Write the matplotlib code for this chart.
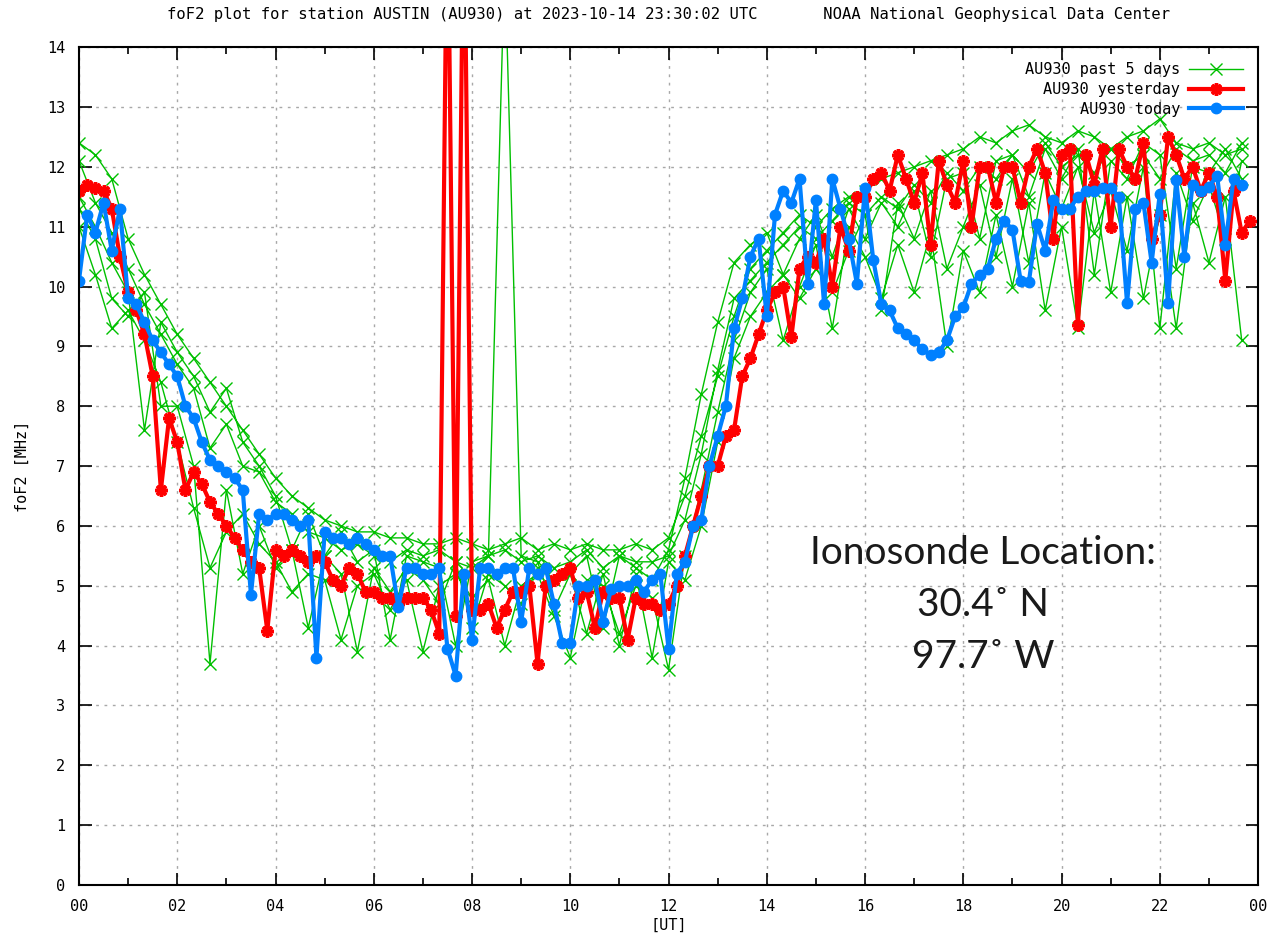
import numpy as np
import matplotlib
matplotlib.use("Agg")
import matplotlib.pyplot as plt
from matplotlib.ticker import MultipleLocator

# ---- data (foF2 in MHz) ----
# past 5 days, one value every 20 min (72 per day)
day1 = [12.4, 12.2, 11.8, 10.8, 10.2, 9.7, 9.2, 8.8, 8.4, 8.0, 7.6, 7.2,
        6.8, 6.5, 6.3, 6.1, 6.0, 5.9, 5.9, 5.8, 5.8, 5.7, 5.7, 5.8,
        5.7, 5.6, 5.7, 5.8, 5.6, 5.7, 5.6, 5.7, 5.6, 5.6, 5.7, 5.6,
        5.8, 6.5, 7.5, 8.5, 9.5, 10.3, 10.6, 10.9, 11.2, 11.0, 11.3, 11.5,
        11.6, 11.8, 11.9, 12.0, 12.1, 12.2, 12.3, 12.5, 12.4, 12.6, 12.7, 12.5,
        12.4, 12.6, 12.5, 12.3, 12.5, 12.6, 12.8, 12.4, 12.3, 12.4, 12.2, 12.3]
day2 = [11.5, 11.0, 10.4, 9.9, 7.6, 9.4, 8.9, 8.5, 7.9, 8.3, 7.4, 7.0,
        6.5, 5.6, 6.2, 5.5, 5.9, 5.4, 5.6, 4.1, 5.5, 5.4, 5.3, 4.0,
        5.4, 5.5, 15.5, 5.5, 5.4, 4.6, 5.2, 5.5, 4.3, 5.5, 5.3, 5.1,
        5.6, 6.8, 8.2, 9.4, 10.4, 10.7, 10.9, 10.2, 10.8, 11.2, 10.5, 11.3,
        10.8, 11.4, 11.0, 11.6, 10.5, 11.8, 11.9, 10.8, 12.1, 12.2, 11.5, 12.3,
        11.8, 12.3, 10.2, 12.1, 11.8, 12.4, 12.2, 10.3, 12.0, 11.9, 12.3, 11.8]
day3 = [11.0, 10.2, 9.3, 9.6, 9.1, 8.4, 7.4, 6.3, 5.3, 5.9, 6.2, 5.7,
        5.4, 4.9, 5.2, 5.1, 4.1, 5.0, 5.2, 4.6, 5.1, 3.9, 5.0, 5.2,
        4.8, 5.1, 4.0, 5.0, 5.2, 4.5, 3.8, 5.1, 5.0, 4.2, 5.0, 4.8,
        3.6, 5.5, 6.6, 7.9, 9.1, 9.9, 10.3, 9.1, 10.0, 10.7, 9.3, 11.0,
        10.5, 9.8, 10.7, 9.9, 10.9, 9.0, 10.6, 9.9, 11.2, 10.0, 11.4, 9.6,
        11.0, 9.3, 11.6, 9.9, 11.5, 9.8, 11.2, 9.3, 11.4, 10.4, 11.5, 9.1]
day4 = [12.1, 11.4, 10.9, 10.3, 9.7, 9.2, 8.7, 8.3, 7.3, 7.7, 7.0, 6.9,
        6.4, 6.2, 5.9, 5.8, 5.6, 5.7, 5.5, 5.4, 5.6, 5.5, 5.6, 5.4,
        5.3, 5.5, 5.6, 5.4, 5.5, 5.3, 5.4, 5.6, 5.3, 5.5, 5.4, 5.4,
        5.5, 6.1, 7.2, 8.6, 9.8, 10.1, 10.4, 10.7, 11.0, 10.8, 11.1, 11.4,
        11.2, 11.5, 11.3, 11.7, 11.4, 11.9, 11.6, 12.0, 11.8, 12.2, 11.9, 12.4,
        12.0, 12.2, 11.9, 12.3, 12.0, 12.2, 11.8, 12.3, 12.1, 12.2, 11.9, 12.4]
day5 = [11.3, 10.8, 9.8, 9.5, 9.9, 8.0, 8.0, 7.0, 3.7, 6.6, 5.2, 6.0,
        5.3, 5.6, 4.3, 5.5, 5.2, 3.9, 5.3, 4.9, 5.3, 5.1, 4.7, 5.4,
        4.3, 5.2, 5.0, 4.7, 5.3, 5.1, 5.2, 4.2, 5.2, 4.0, 5.2, 3.8,
        5.4, 5.1, 6.0, 7.4, 8.8, 9.5, 9.9, 10.2, 9.8, 10.3, 9.9, 10.6,
        11.2, 9.6, 11.4, 10.8, 11.6, 10.3, 11.0, 11.7, 10.5, 11.8, 10.4, 11.9,
        11.3, 12.0, 10.9, 11.6, 10.6, 12.0, 9.3, 11.9, 11.1, 11.7, 10.8, 12.1]

# yesterday, one value every 10 min
yesterday = [11.6, 11.7, 11.65, 11.6, 11.3, 10.5,
             9.9, 9.6, 9.2, 8.5, 6.6, 7.8,
             7.4, 6.6, 6.9, 6.7, 6.4, 6.2,
             6.0, 5.8, 5.6, 5.4, 5.3, 4.25,
             5.6, 5.5, 5.6, 5.5, 5.4, 5.5,
             5.4, 5.1, 5.0, 5.3, 5.2, 4.9,
             4.9, 4.8, 4.8, 4.7, 4.8, 4.8,
             4.8, 4.6, 4.2, 17.0, 4.5, 17.0,
             4.6, 4.6, 4.7, 4.3, 4.6, 4.9,
             4.9, 5.0, 3.7, 5.0, 5.1, 5.2,
             5.3, 4.8, 4.9, 4.3, 4.9, 4.8,
             4.8, 4.1, 4.8, 4.7, 4.7, 4.6,
             4.7, 5.0, 5.5, 6.0, 6.5, 7.0,
             7.0, 7.5, 7.6, 8.5, 8.8, 9.2,
             9.6, 9.9, 10.0, 9.15, 10.3, 10.5,
             10.4, 10.8, 10.0, 11.0, 10.6, 11.5,
             11.5, 11.8, 11.9, 11.6, 12.2, 11.8,
             11.4, 11.9, 10.7, 12.1, 11.7, 11.4,
             12.1, 11.0, 12.0, 12.0, 11.4, 12.0,
             12.0, 11.4, 12.0, 12.3, 11.9, 10.8,
             12.2, 12.3, 9.35, 12.2, 11.7, 12.3,
             11.0, 12.3, 12.0, 11.8, 12.4, 10.8,
             11.2, 12.5, 12.2, 11.8, 12.0, 11.6,
             11.9, 11.5, 10.1, 11.6, 10.9, 11.1]

# today, one value every 10 min up to 23:40
today = [10.1, 11.2, 10.9, 11.4, 10.6, 11.3,
         9.8, 9.7, 9.4, 9.1, 8.9, 8.7,
         8.5, 8.0, 7.8, 7.4, 7.1, 7.0,
         6.9, 6.8, 6.6, 4.85, 6.2, 6.1,
         6.2, 6.2, 6.1, 6.0, 6.1, 3.8,
         5.9, 5.8, 5.8, 5.7, 5.8, 5.7,
         5.6, 5.5, 5.5, 4.65, 5.3, 5.3,
         5.2, 5.2, 5.3, 3.95, 3.5, 5.2,
         4.1, 5.3, 5.3, 5.2, 5.3, 5.3,
         4.4, 5.3, 5.2, 5.3, 4.7, 4.05,
         4.05, 5.0, 5.0, 5.1, 4.4, 4.95,
         5.0, 5.0, 5.1, 4.9, 5.1, 5.2,
         3.95, 5.2, 5.4, 6.0, 6.1, 7.0,
         7.5, 8.0, 9.3, 9.8, 10.5, 10.8,
         9.5, 11.2, 11.6, 11.4, 11.8, 10.05,
         11.45, 9.7, 11.8, 11.3, 10.8, 10.05,
         11.65, 10.45, 9.7, 9.6, 9.3, 9.2,
         9.1, 8.95, 8.85, 8.9, 9.1, 9.5,
         9.65, 10.05, 10.2, 10.3, 10.8, 11.1,
         10.95, 10.1, 10.07, 11.05, 10.6, 11.45,
         11.3, 11.3, 11.5, 11.6, 11.6, 11.65,
         11.65, 11.5, 9.72, 11.3, 11.4, 10.4,
         11.55, 9.72, 11.78, 10.5, 11.7, 11.6,
         11.67, 11.85, 10.7, 11.8, 11.7]

days = [day1, day2, day3, day4, day5]
hour_labels = ["00", "02", "04", "06", "08", "10", "12",
               "14", "16", "18", "20", "22", "00"]

mono = "DejaVu Sans Mono"
green = "#00c000"
red = "#ff0000"
blue = "#0080ff"

fig = plt.figure(figsize=(12.74, 9.42), dpi=100)
ax = fig.add_axes([0.062, 0.0605, 0.9255, 0.8895])

# green: 5 days, broken between days
gx, gy = [], []
for d in days:
    t = np.arange(len(d)) / 3.0
    gx.extend(list(t) + [np.nan])
    gy.extend(list(d) + [np.nan])
ax.plot(gx, gy, color=green, lw=1.0, marker="x", ms=8, mew=1.0,
        label="AU930 past 5 days")

ty = np.arange(len(yesterday)) / 6.0
ax.plot(ty, yesterday, color=red, lw=3, marker=(8, 2, 0), ms=9, mew=2.5,
        label="AU930 yesterday")

tt = np.arange(len(today)) / 6.0
ax.plot(tt, today, color=blue, lw=3, marker="o", ms=7.5,
        label="AU930 today")

ax.set_xlim(0, 24)
ax.set_ylim(0, 14)
ax.set_xticks(np.arange(0, 25, 2))
ax.set_xticklabels(hour_labels, family=mono, fontsize=11)
ax.xaxis.set_minor_locator(MultipleLocator(1))
ax.yaxis.set_major_locator(MultipleLocator(1))
for lab in ax.get_yticklabels():
    lab.set_family(mono)
    lab.set_fontsize(11)
ax.tick_params(which="both", direction="in", top=True, right=True, width=1.2)
ax.tick_params(which="major", length=9, pad=10)
ax.tick_params(which="minor", length=5)
ax.grid(True, which="major", color="#a8a8a8", ls=(0, (2, 4)), lw=1)
for s in ax.spines.values():
    s.set_linewidth(1.5)

ax.set_ylabel("foF2 [MHz]", family=mono, fontsize=11, labelpad=12)
ax.set_xlabel("[UT]", family=mono, fontsize=11, labelpad=3)

ax.set_title("foF2 plot for station AUSTIN (AU930) at 2023-10-14 23:30:02 UTC"
             "       NOAA National Geophysical Data Center",
             family=mono, fontsize=11.2, pad=20)

leg = ax.legend(loc="upper right", markerfirst=False, frameon=False,
                prop={"family": mono, "size": 11}, handlelength=3.5,
                borderaxespad=0.6, labelspacing=0.3, handletextpad=0.6)

ax.text(0.767, 0.334, "Ionosonde Location:\n30.4˚ N\n97.7˚ W",
        transform=ax.transAxes, ha="center", va="center",
        family=["Lato", "DejaVu Sans"], fontsize=28, linespacing=1.55,
        color="#1a1a1a")

fig.savefig("out.png", dpi=100)
